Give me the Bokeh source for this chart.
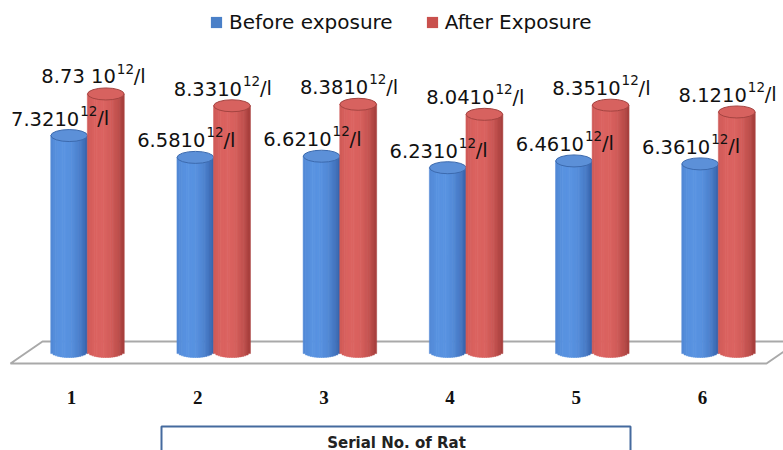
import math
from bokeh.plotting import figure
from bokeh.models import Range1d, ColumnDataSource, Legend, LegendItem
from bokeh.core.properties import value
from bokeh.embed import file_html
from bokeh.resources import INLINE

# ---------------- data ----------------
categories = ["1", "2", "3", "4", "5", "6"]
before = [7.32, 6.58, 6.62, 6.23, 6.46, 6.36]
after = [8.73, 8.33, 8.38, 8.04, 8.35, 8.12]
before_labels = ["7.3210", "6.5810", "6.6210", "6.2310", "6.4610", "6.3610"]
after_labels = ["8.73 10", "8.3310", "8.3810", "8.0410", "8.3510", "8.1210"]
label_exponent = "12"
label_unit = "/l"
series_names = ["Before exposure", "After Exposure"]
x_title = "Serial No. of Rat"

# ---------------- layout helpers ----------------
W, H = 783, 450
PXX = 126.2                 # px per category
PXY = 29.5                  # px per unit
X0 = 1 - 87 / PXX           # category 1 centred at px 87
Y1 = 351 / PXY              # zero at px 351
def fx(px):  # page px -> data x (decorations only)
    return X0 + px / PXX
def fy(py):  # page px -> data y (decorations only)
    return Y1 - py / PXY

p = figure(width=W, height=H, output_backend="svg", toolbar_location=None,
           x_range=Range1d(X0, X0 + W / PXX), y_range=Range1d(Y1 - H / PXY, Y1),
           min_border=0, tools="")
p.axis.visible = False
p.grid.visible = False
p.outline_line_color = None
p.background_fill_color = "white"
p.border_fill_color = "white"

# floor
p.patch(x=[fx(10), fx(766), fx(798), fx(42)], y=[fy(363), fy(363), fy(341), fy(341)],
        fill_color="white", line_color="#A9A9A9", line_width=2)

BW = 0.29
N = 16
ELL_H = 12  # px
half_e = (ELL_H / 2) / PXY

def shade(dark, light, t):
    s = max(0.0, 1 - ((t + 0.3) / 1.3) ** 2) ** 0.8
    c = [int(d + (l - d) * s) for d, l in zip(dark, light)]
    return "#%02x%02x%02x" % tuple(c)

series = [
    (before, -BW / 2, (52, 94, 166), (90, 148, 226), "#5C90D8", "#3C6AAE", before_labels),
    (after, BW / 2, (160, 58, 56), (220, 100, 97), "#D7625F", "#A44441", after_labels),
]

label_sources = []
for vals, off, dark, light, topc, rimc, labels in series:
    xs, bots, tops, cols = [], [], [], []
    for i, v in enumerate(vals):
        c = i + 1 + off
        for k in range(N):
            t = -1 + (2 * k + 1) / N
            xs.append(c + t * BW / 2)
            bots.append(-half_e * math.sqrt(max(0.0, 1 - t * t)))
            tops.append(v)
            cols.append(shade(dark, light, t))
    src = ColumnDataSource(dict(x=xs, bottom=bots, top=tops, color=cols))
    p.vbar(x="x", bottom="bottom", top="top", width=BW / N * 1.15, source=src,
           fill_color="color", line_color="color", line_width=0.5)
    cx = [i + 1 + off for i in range(len(vals))]
    tsrc = ColumnDataSource(dict(x=cx, y=vals, lab=labels,
                                 sup=[label_exponent] * len(vals),
                                 unit=[label_unit] * len(vals)))
    p.ellipse(x="x", y="y", width=BW, height=ELL_H, height_units="screen", source=tsrc,
              fill_color=topc, line_color=rimc, line_width=1)
    label_sources.append(tsrc)

# value labels (drawn over all bars): mantissa, raised exponent, unit
A = 10       # px: where the mantissa ends, relative to the bar centre
SUP_W = 17   # px width of the exponent
for tsrc in label_sources:
    common = dict(source=tsrc, text_baseline="alphabetic", text_color="#111111",
                  text_font=value("DejaVu Sans"))
    p.text(x="x", y="y", text="lab", x_offset=A, y_offset=-17, text_align="right",
           text_font_size="19.5px", **common)
    p.text(x="x", y="y", text="sup", x_offset=A + 1, y_offset=-25, text_align="left",
           text_font_size="13.5px", **common)
    p.text(x="x", y="y", text="unit", x_offset=A + 1 + SUP_W, y_offset=-17,
           text_align="left", text_font_size="19.5px", **common)

# category labels
csrc = ColumnDataSource(dict(x=[i + 1 for i in range(len(categories))],
                             y=[0] * len(categories), t=categories))
p.text(x="x", y="y", text="t", source=csrc, x_offset=-16, y_offset=46,
       text_align="center", text_baseline="middle", text_color="#111111",
       text_font=value("Liberation Serif"), text_font_size="19px",
       text_font_style="bold")

# axis title box
p.quad(left=[fx(161)], right=[fx(630)], top=[fy(426)], bottom=[fy(470)],
       fill_color="white", line_color="#456A9E", line_width=2)
p.text(x=[fx(396)], y=[fy(442)], text=[x_title], text_align="center",
       text_baseline="middle", text_color="#222222",
       text_font=value("DejaVu Sans"), text_font_size="15px", text_font_style="bold")

# legend
nan = float("nan")
rb = p.quad(left=[nan], right=[nan], top=[nan], bottom=[nan], fill_color="#4A80C8", line_color=None)
rr = p.quad(left=[nan], right=[nan], top=[nan], bottom=[nan], fill_color="#C9504D", line_color=None)
legend = Legend(items=[LegendItem(label=series_names[0], renderers=[rb]),
                       LegendItem(label=series_names[1], renderers=[rr])],
                orientation="horizontal", location=(209, H - 10 - 24),
                padding=0, margin=0, spacing=32, label_standoff=6,
                glyph_width=14, glyph_height=14,
                border_line_color=None, background_fill_alpha=0,
                label_text_font="DejaVu Sans", label_text_font_size="20px",
                label_text_color="#111111")
p.add_layout(legend)

open("out.html", "w").write(file_html(p, INLINE))
